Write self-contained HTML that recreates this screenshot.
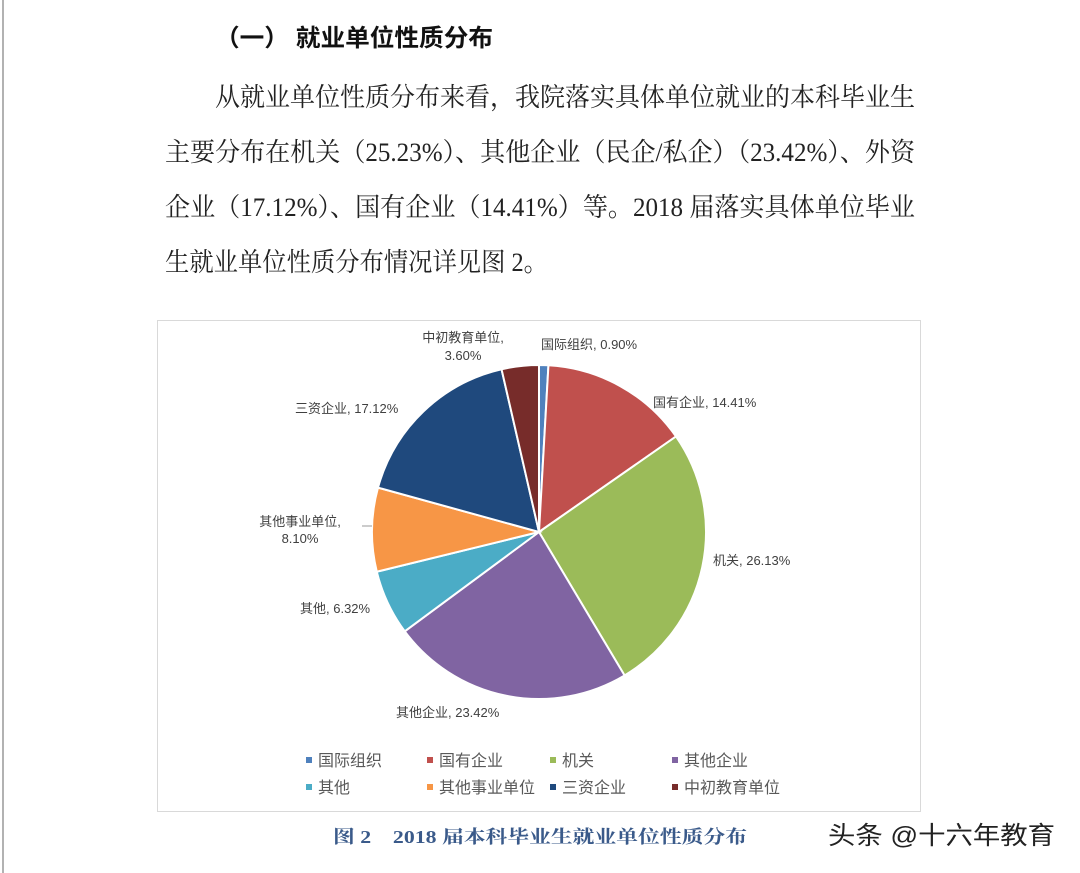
<!DOCTYPE html>
<html><head><meta charset="utf-8"><style>
html,body{margin:0;padding:0;background:#fff;}
svg{display:block}
.b{font-family:"Liberation Serif","Noto Serif CJK SC",serif;font-size:26px;fill:#222}
.l{font-family:"Liberation Sans","Noto Sans CJK SC",sans-serif;font-size:13px;fill:#404040}
.g{font-family:"Liberation Sans","Noto Sans CJK SC",sans-serif;font-size:16px;fill:#595959}
</style></head><body>
<svg id="s" width="1080" height="873" xmlns="http://www.w3.org/2000/svg">
<rect width="1080" height="873" fill="#fff"/>
<line x1="3" y1="0" x2="3" y2="873" stroke="#999" stroke-width="1.5"/>
<text x="215" y="46" font-family="'Liberation Sans','Noto Sans CJK SC',sans-serif" font-size="24" font-weight="bold" fill="#111" textLength="278" lengthAdjust="spacingAndGlyphs">（一）  就业单位性质分布</text>
<text class="b" x="215" y="106" textLength="700" lengthAdjust="spacingAndGlyphs">从就业单位性质分布来看，我院落实具体单位就业的本科毕业生</text>
<text class="b" x="165" y="161" textLength="750" lengthAdjust="spacingAndGlyphs">主要分布在机关（25.23%）、其他企业（民企/私企）（23.42%）、外资</text>
<text class="b" x="165" y="216" textLength="750" lengthAdjust="spacingAndGlyphs">企业（17.12%）、国有企业（14.41%）等。2018 届落实具体单位毕业</text>
<text class="b" x="165" y="271" textLength="383" lengthAdjust="spacingAndGlyphs">生就业单位性质分布情况详见图 2。</text>
<rect x="157.5" y="320.5" width="763" height="491" fill="#fff" stroke="#d9d9d9"/>
<g id="pie"></g>
<line x1="362" y1="526" x2="372" y2="526" stroke="#999"/>
<text class="l" x="463" y="342" text-anchor="middle">中初教育单位,</text>
<text class="l" x="463" y="360" text-anchor="middle">3.60%</text>
<text class="l" x="541" y="349">国际组织, 0.90%</text>
<text class="l" x="653" y="407">国有企业, 14.41%</text>
<text class="l" x="713" y="565">机关, 26.13%</text>
<text class="l" x="396" y="717">其他企业, 23.42%</text>
<text class="l" x="300" y="613">其他, 6.32%</text>
<text class="l" x="300" y="526" text-anchor="middle">其他事业单位,</text>
<text class="l" x="300" y="543" text-anchor="middle">8.10%</text>
<text class="l" x="295" y="413">三资企业, 17.12%</text>
<g id="leg"></g>
<text x="333" y="843" font-family="'Liberation Serif','Noto Serif CJK SC',serif" font-size="18" font-weight="bold" fill="#3a5a8a" textLength="414" lengthAdjust="spacingAndGlyphs">图 2　2018 届本科毕业生就业单位性质分布</text>
<text x="828" y="844" font-family="'Liberation Sans','Noto Sans CJK SC',sans-serif" font-size="25" fill="#222" textLength="227" lengthAdjust="spacingAndGlyphs">头条 @十六年教育</text>
</svg>
<script>
var d=[["国际组织",0.90,"#4f81bd"],["国有企业",14.41,"#c0504d"],["机关",26.13,"#9bbb59"],["其他企业",23.42,"#8064a2"],["其他",6.32,"#4bacc6"],["其他事业单位",8.10,"#f79646"],["三资企业",17.12,"#1f497d"],["中初教育单位",3.60,"#772c2a"]];
var cx=539,cy=532,r=167,a=0,h="",ns="http://www.w3.org/2000/svg";
d.forEach(function(e){var b=a+e[1]/100*2*Math.PI;
var x1=cx+r*Math.sin(a),y1=cy-r*Math.cos(a),x2=cx+r*Math.sin(b),y2=cy-r*Math.cos(b);
h+='<path d="M'+cx+' '+cy+'L'+x1+' '+y1+'A'+r+' '+r+' 0 '+((b-a)>Math.PI?1:0)+' 1 '+x2+' '+y2+'Z" fill="'+e[2]+'" stroke="#fff" stroke-width="2"/>';a=b;});
document.getElementById("pie").innerHTML=h;
var pos=[[309,760],[430,760],[553,760],[675,760],[309,787],[430,787],[553,787],[675,787]],g="";
d.forEach(function(e,i){var p=pos[i];g+='<rect x="'+(p[0]-3)+'" y="'+(p[1]-3)+'" width="6" height="6" fill="'+e[2]+'"/><text class="g" x="'+(p[0]+9)+'" y="'+(p[1]+6)+'">'+e[0]+'</text>';});
document.getElementById("leg").innerHTML=g;
</script>
</body></html>
